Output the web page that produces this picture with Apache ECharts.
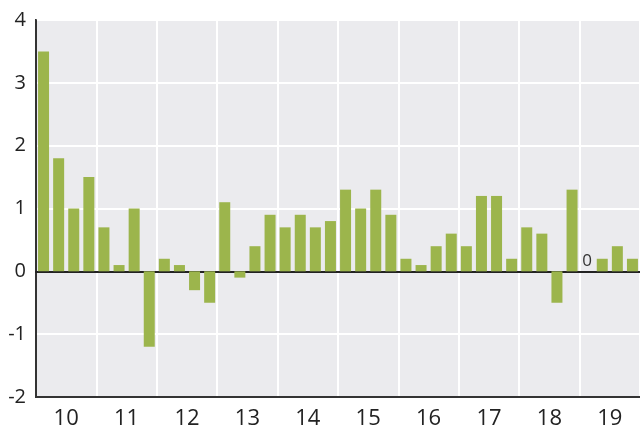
<!DOCTYPE html>
<html>
<head>
<meta charset="utf-8">
<script src="https://cdn.jsdelivr.net/npm/echarts@6/dist/echarts.min.js"></script>
<style>
    html, body { margin: 0; padding: 0; background: #fff; }
    #chart { width: 640px; height: 432px; }
</style>
</head>
<body>
<div id="chart"></div>
<script>
// year labels on the bottom axis, one per block of four quarters
let years = ['10', '11', '12', '13', '14', '15', '16', '17', '18', '19'];

// quarter categories, built from the year list
let quarters = [];
years.forEach(y => {
    ['Q1', 'Q2', 'Q3', 'Q4'].forEach(q => quarters.push(y + q));
});

// quarterly change
let values = [
    3.5, 1.8, 1.0, 1.5,
    0.7, 0.1, 1.0, -1.2,
    0.2, 0.1, -0.3, -0.5,
    1.1, -0.1, 0.4, 0.9,
    0.7, 0.9, 0.7, 0.8,
    1.3, 1.0, 1.3, 0.9,
    0.2, 0.1, 0.4, 0.6,
    0.4, 1.2, 1.2, 0.2,
    0.7, 0.6, -0.5, 1.3,
    0, 0.2, 0.4, 0.2
];

let yTicks = { min: -2, max: 4, step: 1 };

let font = '"Open Sans", "Noto Sans", sans-serif';

let chart = echarts.init(document.getElementById('chart'));

chart.setOption({
    animation: false,
    grid: {
        left: 36,
        top: 20,
        right: -1,
        bottom: 35,
        show: true,
        backgroundColor: '#EBEBEE',
        borderColor: '#333',
        borderWidth: 2
    },
    xAxis: [
        {
            // quarters, carries the bars and the zero line
            type: 'category',
            data: quarters,
            position: 'bottom',
            axisLine: { onZero: true, lineStyle: { color: '#222', width: 2 } },
            axisTick: { show: false },
            axisLabel: { show: false },
            splitLine: { show: false }
        },
        {
            // years, labels + vertical gridlines
            type: 'category',
            data: years,
            position: 'bottom',
            boundaryGap: true,
            axisLine: { onZero: false, lineStyle: { color: '#333', width: 2 } },
            axisTick: { show: false },
            axisLabel: {
                margin: 11,
                fontSize: 22,
                fontFamily: font,
                color: '#222'
            },
            splitLine: { show: true, lineStyle: { color: '#fff', width: 2 } }
        }
    ],
    yAxis: {
        type: 'value',
        min: yTicks.min,
        max: yTicks.max,
        interval: yTicks.step,
        axisLine: { show: true, lineStyle: { color: '#333', width: 2 } },
        axisTick: { show: false },
        axisLabel: {
            margin: 10,
            fontSize: 20,
            fontFamily: font,
            color: '#222'
        },
        splitLine: { show: true, lineStyle: { color: '#fff', width: 2 } }
    },
    series: [{
        type: 'bar',
        xAxisIndex: 0,
        data: values,
        barWidth: 11,
        itemStyle: { color: '#9CB54C' },
        label: {
            show: true,
            position: 'top',
            distance: 2,
            fontSize: 17,
            fontFamily: font,
            color: '#333',
            formatter: p => (p.value === 0 ? '0' : '')
        },
        z: 1
    }]
});
</script>
</body>
</html>
